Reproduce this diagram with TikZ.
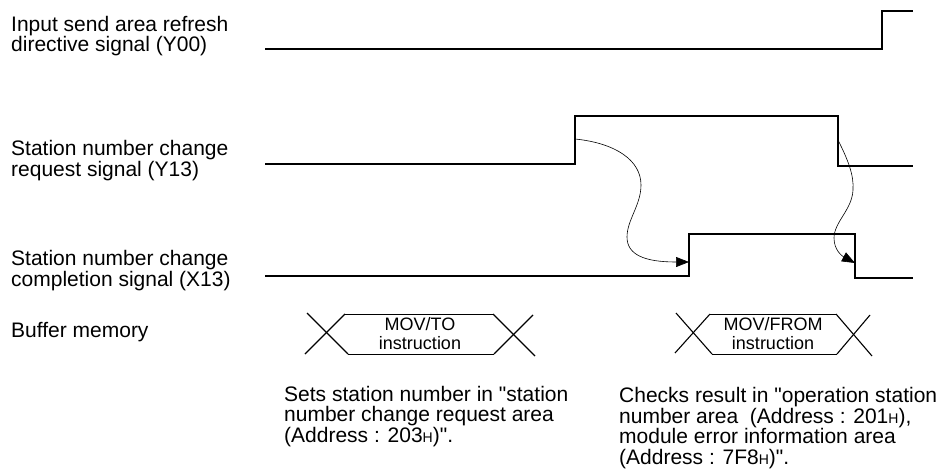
\documentclass[tikz,border=0pt]{standalone}
\usepackage{fontspec}
\setmainfont{Liberation Sans}[Ligatures=TeXOff]
\usetikzlibrary{arrows.meta}
\newcommand{\subH}{{\fontsize{14}{14}\selectfont H}}
\begin{document}
\begin{tikzpicture}[x=1pt,y=-1pt,
  lbl/.style={anchor=base west, inner sep=0pt, align=left, font=\fontsize{21}{20.5}\selectfont},
  sig/.style={line width=1.3pt, line join=miter},
  flow/.style={line width=0.6pt, -{Triangle[length=13pt,width=10pt]}},
  xline/.style={line width=1.1pt},
  hexedge/.style={line width=1pt},
  instr/.style={anchor=base, inner sep=0pt, align=center, font=\fontsize{18}{18.6}\selectfont}]
\useasboundingbox (0,0) rectangle (952,471);

% labels (anchor = baseline of last line)
\node[lbl] (l1) at (11,51.5) {Input send area refresh\\directive signal (Y00)};
\node[lbl] (l2) at (11,176) {Station number change\\request signal (Y13)};
\node[lbl] (l3) at (11,286) {Station number change\\completion signal (X13)};
\node[lbl] (l4) at (11,337) {Buffer memory};
\node[lbl] (n1) at (284,442) {Sets station number in "station\\number change request area\\(Address : 203\subH)".};
\node[lbl] (n2) at (619,464) {Checks result in "operation station\\number area\ \ (Address : 201\subH),\\module error information area\\(Address : 7F8\subH)".};

% Y00
\coordinate (a0) at (265,49);
\coordinate (a1) at (882,49);
\coordinate (a2) at (882,11);
\coordinate (a3) at (913,11);
\draw[sig] (a0) -- (a1) -- (a2) -- (a3);

% Y13
\coordinate (b0) at (265,164);
\coordinate (b1) at (575,164);
\coordinate (b2) at (575,116);
\coordinate (b3) at (838,116);
\coordinate (b4) at (838,166);
\coordinate (b5) at (913,166);
\draw[sig] (b0) -- (b1) -- (b2) -- (b3) -- (b4) -- (b5);

% X13
\coordinate (c0) at (265,276);
\coordinate (c1) at (689,276);
\coordinate (c2) at (689,234);
\coordinate (c3) at (855,234);
\coordinate (c4) at (855,278);
\coordinate (c5) at (913,278);
\draw[sig] (c0) -- (c1) -- (c2) -- (c3) -- (c4) -- (c5);

% flow arrows
\coordinate (f1s) at (575,139);
\coordinate (f1e) at (689,262);
\draw[flow] (f1s) .. controls (615,143) and (641,160) .. (641,185)
  .. controls (641,205) and (627,220) .. (627,237)
  .. controls (627,255) and (645,262) .. (f1e);
\coordinate (f2s) at (838,140);
\coordinate (f2e) at (855,263);
\draw[flow] (f2s) .. controls (848,160) and (854,175) .. (853,190)
  .. controls (852,210) and (834,222) .. (834,238)
  .. controls (834,250) and (842,256) .. (f2e);

% MOV/TO
\coordinate (h1tl) at (345,314);
\coordinate (h1bl) at (348,354);
\coordinate (h1tr) at (493,314);
\coordinate (h1br) at (494,354);
\draw[hexedge] (h1tl) -- (h1tr);
\draw[hexedge] (h1bl) -- (h1br);
\draw[xline] (307,313) -- (h1bl);
\draw[xline] (305,354) -- (h1tl);
\draw[xline] (h1tr) -- (535,356);
\draw[xline] (h1br) -- (533,315);
\node[instr] (m1) at (420,349.3) {MOV/TO\\instruction};

% MOV/FROM
\coordinate (h2tl) at (710,314);
\coordinate (h2bl) at (712,354);
\coordinate (h2tr) at (836,314);
\coordinate (h2br) at (837,354);
\draw[hexedge] (h2tl) -- (h2tr);
\draw[hexedge] (h2bl) -- (h2br);
\draw[xline] (676,313) -- (h2bl);
\draw[xline] (675,353) -- (h2tl);
\draw[xline] (h2tr) -- (872,356);
\draw[xline] (h2br) -- (870,315);
\node[instr] (m2) at (773,349.3) {MOV/FROM\\instruction};
\end{tikzpicture}
\end{document}
